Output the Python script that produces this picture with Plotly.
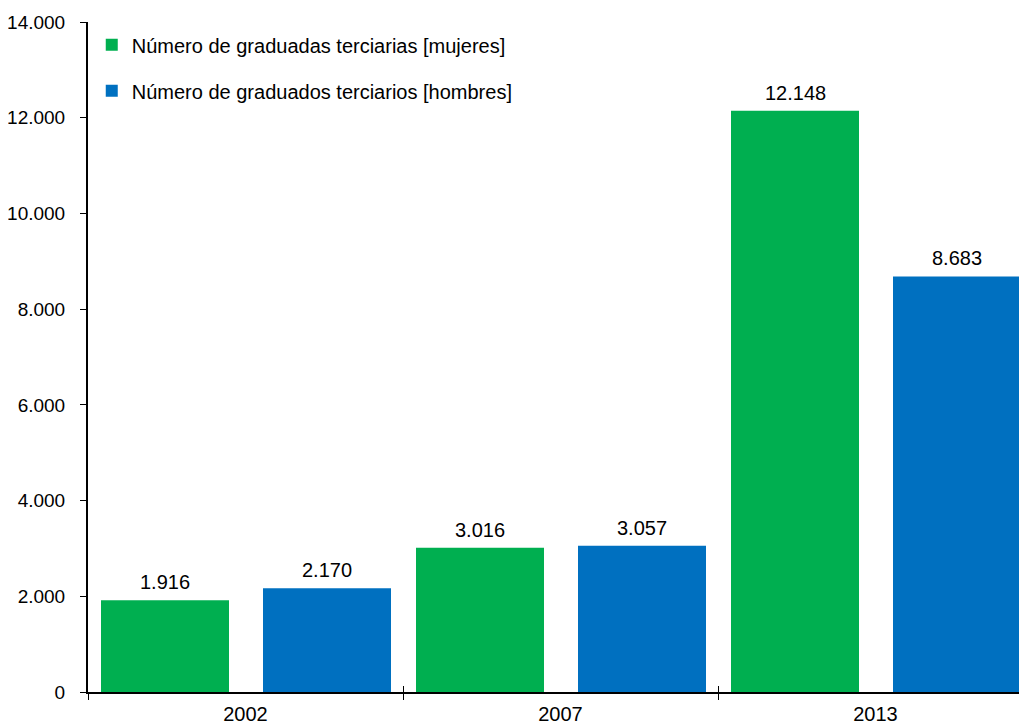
import plotly.graph_objects as go

years = ["2002", "2007", "2013"]
mujeres = [1916, 3016, 12148]
hombres = [2170, 3057, 8683]
name_m = "Número de graduadas terciarias [mujeres]"
name_h = "Número de graduados terciarios [hombres]"
y_ticks = [0, 2000, 4000, 6000, 8000, 10000, 12000, 14000]

FONT = "Liberation Sans, Arial, Helvetica, sans-serif"
FS = 20
GREEN = "#00AF50"
BLUE = "#0070C0"
CAT_PX = 315
W = 128 / CAT_PX
OFF_M = 13 / CAT_PX - 0.5
OFF_H = 175 / CAT_PX - 0.5
XR = [-0.5, 2.5 - 6 / CAT_PX]

fig = go.Figure()
fig.add_trace(go.Bar(
    x=years, y=mujeres, name=name_m, marker=dict(color=GREEN, line=dict(width=0)),
    width=W, offset=OFF_M, legendgroup="m",
))
fig.add_trace(go.Bar(
    x=years, y=hombres, name=name_h, marker=dict(color=BLUE, line=dict(width=0)),
    width=W, offset=OFF_H, legendgroup="h",
))
# invisible helper trace so the overlay axis can draw the upper half of the crossing ticks
fig.add_trace(go.Scatter(
    x=years, y=[0] * len(years), xaxis="x2", mode="markers",
    marker=dict(opacity=0), showlegend=False, hoverinfo="skip",
))

# value labels above the bars (x given as category index + bar-centre offset)
for vals, off in ((mujeres, OFF_M), (hombres, OFF_H)):
    for i, v in enumerate(vals):
        fig.add_annotation(
            x=i + off + W / 2, y=v, xref="x", yref="y",
            yshift=5, yanchor="bottom", xanchor="center",
            text=f"{v:,}".replace(",", "."), showarrow=False,
            font=dict(size=FS, color="black", family=FONT),
        )

fig.update_layout(
    width=1019, height=718,
    margin=dict(l=80, r=0, t=14, b=34),
    plot_bgcolor="white", paper_bgcolor="white",
    separators=",.",
    font=dict(family=FONT, size=FS, color="black"),
    barmode="group",
    legend=dict(
        x=0.004, y=0.995, xanchor="left", yanchor="top",
        traceorder="grouped", tracegroupgap=17,
        font=dict(size=FS, color="black", family=FONT),
        bgcolor="rgba(0,0,0,0)",
    ),
    xaxis=dict(
        type="category", categoryorder="array", categoryarray=years,
        range=XR, automargin=False,
        showline=True, linecolor="black", linewidth=2,
        ticks="outside", ticklen=6, tickcolor="black", tickwidth=1,
        tickson="boundaries", showgrid=False, zeroline=False,
        tickfont=dict(size=FS, family=FONT, color="black"),
        ticklabelstandoff=3,
    ),
    xaxis2=dict(
        type="category", categoryorder="array", categoryarray=years,
        range=XR, overlaying="x", side="bottom", anchor="y", automargin=False,
        showline=False, showticklabels=False,
        ticks="inside", ticklen=6, tickcolor="black", tickwidth=1,
        tickson="boundaries", showgrid=False, zeroline=False,
    ),
    yaxis=dict(
        range=[0, 14000], tickvals=y_ticks, tickformat=",d", automargin=False,
        showline=True, linecolor="black", linewidth=2,
        ticks="outside", ticklen=6, tickcolor="black", tickwidth=1,
        showgrid=False, zeroline=False,
        tickfont=dict(size=19, family=FONT, color="black"),
        ticklabelstandoff=11,
    ),
)

fig.write_html("out.html")
